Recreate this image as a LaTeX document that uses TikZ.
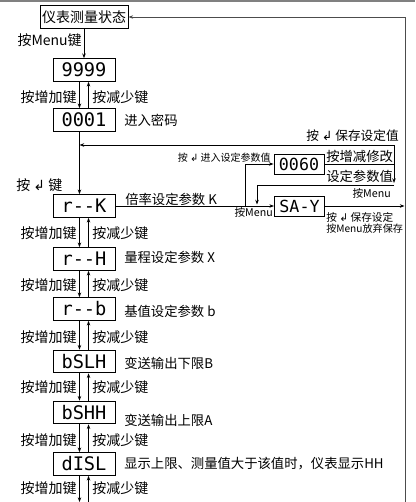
\documentclass[tikz,border=0pt]{standalone}
\usepackage{fontspec}
\setmainfont{Noto Sans CJK SC}
\newfontfamily\segfont{DejaVu Sans Mono}
\newfontfamily\symfont{DejaVu Sans}
\usetikzlibrary{arrows.meta, positioning}
\newcommand{\enterkey}{{\symfont ↲}}

\begin{document}
\begin{tikzpicture}[
    x=0.75pt, y=-0.75pt,
    box/.style={rectangle, draw, line width=0.7pt, minimum width=46.5pt, minimum height=17pt, inner sep=0pt, font=\segfont\fontsize{14}{14}\selectfont},
    smallbox/.style={box, minimum width=37.5pt, minimum height=15pt, font=\segfont\fontsize{12.5}{12.5}\selectfont},
    state/.style={rectangle, draw, line width=0.7pt, minimum width=66pt, minimum height=17pt, inner sep=1pt, font=\fontsize{10.5}{12}\selectfont},
    lbl/.style={inner sep=0pt, font=\fontsize{10}{12}\selectfont},
    keylbl/.style={lbl, font=\fontsize{10.5}{12}\selectfont},
    tiny/.style={inner sep=0pt, font=\fontsize{7.5}{9}\selectfont},
    arrow/.style={-{Stealth[length=3.5pt, width=2.6pt]}, line width=0.6pt}
]
\useasboundingbox (0,0) rectangle (415,502);

% top rule
\draw[gray, line width=1.2pt] (0,0.8) -- (415,0.8);

% Measuring state
\node[state] (measure) at (84,17) {仪表测量状态};

% Column of menu items
\node[box] (pwd) at (84,70) {9999};
\node[box] (code) at (84,120) {0001};
\node[box] (rK) at (84,206) {r--K};
\node[box] (rX) at (84,259) {r--H};
\node[box] (rb) at (84,309) {r--b};
\node[box] (bSLH) at (84,361.5) {bSLH};
\node[box] (bSHH) at (84,412.5) {bSHH};
\node[box] (dISL) at (84,464) {dISL};

% Parameter value and save
\node[smallbox] (val) at (299,164) {0060};
\node[smallbox] (save) at (299.5,206) {SA-Y};

% Helper points
\coordinate (join) at (79.5,145);
\coordinate (corner) at (394,145);
\coordinate (drop) at (394,183);
\coordinate (turn) at (394,185.5);
\coordinate (land) at (257,204.5);
\coordinate (branch) at (245,206);
\coordinate (rightin) at (404.5,206);
\coordinate (rightbot) at (405,502);
\coordinate (downend) at (79.5,502);
\coordinate (upstart) at (88.5,502);

% Labels
\node[keylbl, anchor=east] (menulbl) at (82,40) {按Menu键};
\node[lbl, anchor=west] (codelbl) at (124,120) {进入密码};
\node[keylbl, anchor=west] (enterlbl) at (16,185) {按 \enterkey{} 键};
\node[lbl, anchor=west] (klbl) at (125,199) {倍率设定参数 K};
\node[lbl, anchor=west] (xlbl) at (124,257) {量程设定参数 X};
\node[lbl, anchor=west] (blbl) at (124,311) {基值设定参数 b};
\node[lbl, anchor=west] (Blbl) at (124,363) {变送输出下限B};
\node[lbl, anchor=west] (Albl) at (124,420) {变送输出上限A};
\node[lbl, anchor=west] (hhlbl) at (124,464) {显示上限、测量值大于该值时，仪表显示HH};
\node[tiny, anchor=east] (intolbl) at (271,158) {按 \enterkey{} 进入设定参数值};
\node[lbl, anchor=west] (modlbl) at (326,156) {按增减修改};
\node[lbl, anchor=west] (setlbl) at (326,176) {设定参数值};
\node[lbl, font=\fontsize{9.5}{11}\selectfont, anchor=east] (storelbl) at (399,136) {按 \enterkey{} 保存设定值};
\node[tiny, font=\fontsize{8}{9}\selectfont, anchor=east] (menu1) at (391,193) {按Menu};
\node[tiny, font=\fontsize{8}{9}\selectfont, anchor=east] (menu2) at (273,212) {按Menu};
\node[tiny, font=\fontsize{8}{10}\selectfont, anchor=west] (savelbl) at (326,217) {按 \enterkey{} 保存设定};
\node[tiny, font=\fontsize{7.6}{10}\selectfont, anchor=west] (droplbl) at (326,229) {按Menu放弃保存};

% Up / down key pairs
\foreach \a/\b/\y in {pwd/code/97, rK/rX/233, rX/rb/285, rb/bSLH/337, bSLH/bSHH/387, bSHH/dISL/440} {
  \draw[arrow] ([xshift=-3.4pt]\a.south) -- ([xshift=-3.4pt]\b.north);
  \draw[arrow] ([xshift=3.4pt]\b.north) -- ([xshift=3.4pt]\a.south);
  \node[keylbl, anchor=east] at (77,\y) {按增加键};
  \node[keylbl, anchor=west] at (92,\y) {按减少键};
}
\draw[arrow] ([xshift=-3.4pt]dISL.south) -- (downend);
\draw[arrow] (upstart) -- ([xshift=3.4pt]dISL.south);
\node[keylbl, anchor=east] (inclast) at (77,488) {按增加键};
\node[keylbl, anchor=west] (declast) at (92,488) {按减少键};

% Arrows
\draw[arrow] (measure) -- (pwd);
\draw[arrow] ([xshift=-3.4pt]code.south) -- ([xshift=-3.4pt]rK.north);
\draw[arrow] (rK.east) -- (save.west);
\draw[arrow] (branch) |- (val.west);
\draw[arrow] (val.east) -| (corner) -- (join);
\draw[arrow] (val.east) -| (drop);
\draw[arrow] (turn) -| (land);
\draw[arrow] (save.east) -- (rightin);
\draw[arrow, draw=black!70] (rightbot) |- (measure.east);

\end{tikzpicture}
\end{document}
